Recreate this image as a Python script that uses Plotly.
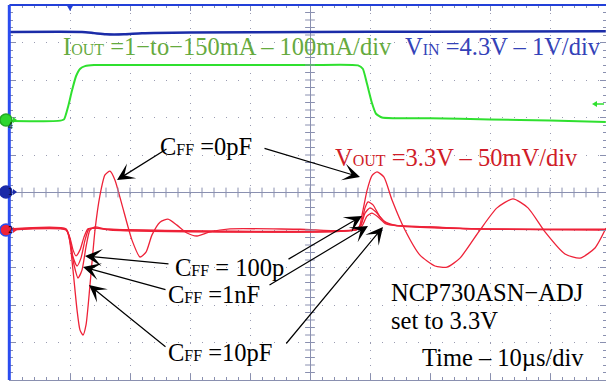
import numpy as np
import plotly.graph_objects as go

# scope capture: time in µs (10 µs/div), amplitude in screen divisions
vin_t = [-50, -38, -36, -34, -31, -28, -20, 0, 20, 49.3]
vin_v = [4.28, 4.28, 4.25, 4.22, 4.22, 4.25, 4.27, 4.28, 4.29, 4.30]

iout_t = [-50, -42, -41, -40.3, -39.7, -39, -38.3, -37.5, -36, -30, 0, 8, 8.8, 9.5,
          10.3, 11, 12, 14, 20, 30, 40, 49.3]
iout_v = [1.91, 1.91, 1.95, 2.3, 2.7, 3.1, 3.3, 3.37, 3.40, 3.40, 3.40, 3.39, 3.3, 2.9,
          2.4, 2.1, 2.0, 1.98, 1.98, 1.95, 1.92, 1.88]

vout_0pf_t = [-50, -40.67, -40.17, -39.5, -38.83, -38.33, -37.83, -37.33, -36.67, -35.83,
              -35, -34.17, -33.33, -32.5, -31.33, -29.67, -28.33, -27.33, -26.33, -25,
              -23.67, -22.17, -20.5, -18.83, -16.67, -13.33, -1.67, 8.0, 8.67, 9.5,
              10.33, 11.17, 12.33, 13.67, 15.83, 18.33, 20.83, 22.83, 25, 28.33,
              31.17, 33.83, 36.33, 39.17, 42.5, 45, 47.5, 49.33]
vout_0pf_v = [-0.98, -0.98, -1.16, -2.07, -3.13, -3.67, -3.8, -3.53, -2.47, -1.0,
              -0.07, 0.47, 0.57, 0.33, -0.33, -1.27, -1.72, -1.59, -1.13, -0.79,
              -0.71, -0.87, -1.08, -1.16, -1.05, -0.97, -0.98, -0.98, -0.6, 0.05,
              0.45, 0.55, 0.41, -0.2, -1.0, -1.67, -1.96, -1.99, -1.75, -1.0,
              -0.41, -0.17, -0.41, -1.05, -1.64, -1.75, -1.48, -0.95]

vout_10pf_t = [-50, -40.67, -40, -39.33, -38.67, -38, -37.33, -36.67, -35.83, -34.17,
               -31.67, 7.67, 8.5, 9.17, 9.67, 10.5, 11.67, 13, 15, 20, 26.67, 49.33]
vout_10pf_v = [-0.99, -0.99, -1.32, -1.93, -2.28, -2.07, -1.45, -1.0, -0.92, -0.97,
               -0.99, -0.99, -0.84, -0.41, -0.25, -0.33, -0.65, -0.84, -0.89, -0.92,
               -0.97, -0.99]

vout_1nf_t = [-50, -40.67, -40, -39.5, -38.83, -38.17, -37.5, -36.83, -35.67, -33.33,
              7.67, 8.5, 9.17, 10, 11, 12.33, 14.17, 20, 28.33, 49.33]
vout_1nf_v = [-0.97, -0.97, -1.27, -1.72, -1.96, -1.75, -1.27, -0.97, -0.95, -0.98,
              -0.98, -0.87, -0.55, -0.41, -0.52, -0.76, -0.87, -0.92, -0.97, -0.98]

vout_100p_t = [-50, -40.67, -40, -39.5, -39, -38.33, -37.67, -37, -35.67, -33.33,
               7.67, 8.67, 9.5, 10.33, 11.33, 12.67, 14.67, 21.67, 49.33]
vout_100p_v = [-1.0, -1.0, -1.21, -1.53, -1.69, -1.53, -1.19, -0.97, -0.95, -1.0,
               -1.0, -0.89, -0.63, -0.55, -0.65, -0.84, -0.89, -0.95, -1.0]

RED = "#ee2238"
GREEN = "#2fe02f"
BLUE = "#1b2ca8"
GRID = "#9a9cb2"
AXIS = "#8a90b0"
SERIF = "Liberation Serif"

W, H = 606, 381
L, T, R, B = 10, 5, 0, 1
PW, PH = W - L - R, H - T - B


def px(x):
    return (x - L) / PW


def py(y):
    return (H - B - y) / PH


fig = go.Figure()

for t, v in [(vout_100p_t, vout_100p_v), (vout_1nf_t, vout_1nf_v),
             (vout_10pf_t, vout_10pf_v), (vout_0pf_t, vout_0pf_v)]:
    fig.add_trace(go.Scatter(x=t, y=v, mode="lines",
                             line=dict(color=RED, width=1.3, shape="spline", smoothing=0.6),
                             hoverinfo="skip"))

fig.add_trace(go.Scatter(x=iout_t, y=iout_v, mode="lines",
                         line=dict(color=GREEN, width=2, shape="spline", smoothing=0.5),
                         hoverinfo="skip"))
fig.add_trace(go.Scatter(x=vin_t, y=vin_v, mode="lines",
                         line=dict(color=BLUE, width=2.5, shape="spline", smoothing=0.6),
                         hoverinfo="skip"))

# ticks on the centre cross
xt = np.arange(-48, 50, 2)
yt = np.arange(-4.8, 5, 0.2)
fig.add_trace(go.Scatter(x=xt, y=np.zeros_like(xt), mode="markers", hoverinfo="skip",
                         marker=dict(symbol="line-ns", size=7, line=dict(color=AXIS, width=1))))
fig.add_trace(go.Scatter(x=np.zeros_like(yt), y=yt, mode="markers", hoverinfo="skip",
                         marker=dict(symbol="line-ew", size=7, line=dict(color=AXIS, width=1))))

shapes = [
    dict(type="line", xref="paper", yref="paper", x0=0, x1=1.02, y0=1, y1=1,
         line=dict(color="#2240d8", width=2)),
    dict(type="line", xref="paper", yref="paper", x0=px(9.3), x1=px(9.3), y0=0, y1=1,
         line=dict(color="#2a4cf0", width=3)),
    # trigger marker
    dict(type="path", xref="paper", yref="paper",
         path=f"M{px(66)},{py(4)} L{px(74)},{py(4)} L{px(70)},{py(11)} Z",
         fillcolor="#2240d8", line=dict(width=0)),
    # green level marker on the right
    dict(type="path", xref="paper", yref="paper",
         path=f"M{px(592)},{py(104)} L{px(597)},{py(101)} L{px(597)},{py(107)} Z",
         fillcolor=GREEN, line=dict(width=0)),
    dict(type="line", xref="paper", yref="paper", x0=px(596), x1=px(604), y0=py(104), y1=py(104),
         line=dict(color=GREEN, width=1.5)),
]

# channel markers on the left edge
for yy, fill, ring, lab in [(120, "#2ed62e", "#22aa22", "4"), (192, "#1a2aa8", "#1a2aa8", "1"),
                            (230, "#ee2238", "#2a4cf0", "2")]:
    shapes.append(dict(type="circle", xref="paper", yref="paper",
                       x0=px(0), x1=px(12), y0=py(yy + 6), y1=py(yy - 6),
                       fillcolor=fill, line=dict(color=ring, width=1.5)))
    shapes.append(dict(type="path", xref="paper", yref="paper",
                       path=f"M{px(17)},{py(yy)} L{px(13)},{py(yy - 3)} L{px(13)},{py(yy + 3)} Z",
                       fillcolor=fill, line=dict(width=0)))

annotations = []
for yy, lab, col in [(120, "4", "#0a3a0a"), (192, "1", "#0a0a40"), (230, "2", "#300000")]:
    annotations.append(dict(x=px(6), y=py(yy), xref="paper", yref="paper", text=lab,
                            showarrow=False, font=dict(size=8, color=col, family="DejaVu Sans")))

SUB = "<span style='font-size:16px'>{}</span>"


def label(x, y, text, color="black"):
    annotations.append(dict(x=px(x), y=py(y), xref="paper", yref="paper", text=text,
                            showarrow=False, xanchor="left", yanchor="middle",
                            font=dict(family=SERIF, size=24.5, color=color)))


label(61, 47, "I" + SUB.format("OUT") + " =1−to−150mA – 100mA/div", "#66aa3e")
label(403, 47, "V" + SUB.format("IN") + " =4.3V – 1V/div", "#3442b8")
label(158, 146, "C" + SUB.format("FF") + " =0pF")
label(333, 157, "V" + SUB.format("OUT") + " =3.3V – 50mV/div", "#d01c28")
label(173, 267, "C" + SUB.format("FF") + " = 100p")
label(166, 294, "C" + SUB.format("FF") + " =1nF")
label(166, 352, "C" + SUB.format("FF") + " =10pF")
label(389, 292, "NCP730ASN−ADJ")
label(389, 320, "set to 3.3V")
label(420, 357, "Time – 10µs/div")

# arrows: tip -> tail, in screen pixels
arrows = [((117, 180), (168, 148)), ((360, 177), (263, 148)),
          ((85, 256), (170, 264)), ((362, 216), (287, 260)),
          ((83, 267), (167, 290)), ((368, 226), (268, 286)),
          ((89, 285), (167, 348)), ((383, 227), (285, 345))]
for (tx, ty), (sx, sy) in arrows:
    annotations.append(dict(x=px(tx), y=py(ty), xref="paper", yref="paper", text="",
                            showarrow=True, ax=sx - tx, ay=sy - ty, axref="pixel", ayref="pixel",
                            arrowhead=3, arrowsize=2.4, arrowwidth=1.2, arrowcolor="black",
                            standoff=0, startstandoff=0))

axis_common = dict(showticklabels=False, showline=True, linecolor=AXIS, linewidth=1,
                   mirror="ticks", ticks="inside", ticklen=6, tickcolor=AXIS,
                   showgrid=True, gridcolor=GRID, gridwidth=1,
                   zeroline=True, zerolinecolor=AXIS, zerolinewidth=1.3, fixedrange=True)

fig.update_layout(
    width=W, height=H,
    margin=dict(l=L, r=R, t=T, b=B),
    paper_bgcolor="white", plot_bgcolor="white",
    showlegend=False,
    shapes=shapes, annotations=annotations,
    xaxis=dict(range=[-50, (PW - 300) / 6], dtick=10, tick0=0, griddash="1px,6.5px",
               minor=dict(dtick=2, ticks="inside", ticklen=3, tickcolor=AXIS, showgrid=False),
               **axis_common),
    yaxis=dict(range=[-5, 5], dtick=1, tick0=0, griddash="1px,11px",
               minor=dict(dtick=0.2, ticks="inside", ticklen=3, tickcolor=AXIS, showgrid=False),
               **axis_common),
)

fig.write_html("out.html", config={"displayModeBar": False},
               post_script="document.body.style.margin='0';document.body.style.overflow='hidden';")
